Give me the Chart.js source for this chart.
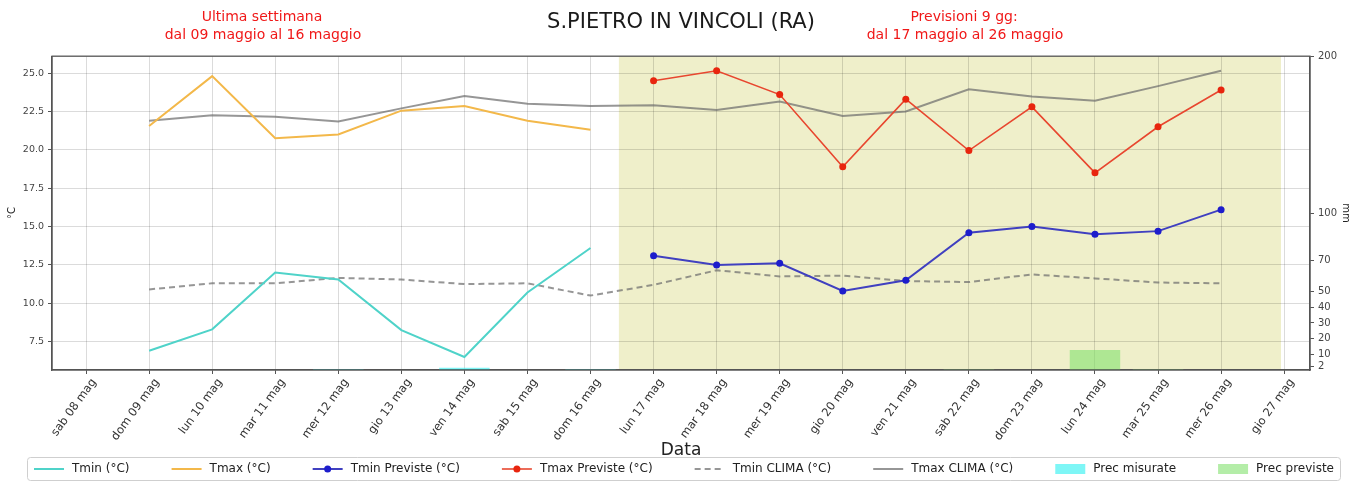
<!DOCTYPE html>
<html>
<head>
<meta charset="utf-8">
<script src="https://cdn.jsdelivr.net/npm/chart.js@4.4.1/dist/chart.umd.min.js"></script>
<style>
  html, body { margin: 0; padding: 0; background: #fff; }
</style>
</head>
<body>
<canvas id="meteoChart" width="1362" height="483"></canvas>
<script>
// Days on the x axis
const days = ['sab 08 mag', 'dom 09 mag', 'lun 10 mag', 'mar 11 mag', 'mer 12 mag', 'gio 13 mag', 'ven 14 mag',
  'sab 15 mag', 'dom 16 mag', 'lun 17 mag', 'mar 18 mag', 'mer 19 mag', 'gio 20 mag', 'ven 21 mag',
  'sab 22 mag', 'dom 23 mag', 'lun 24 mag', 'mar 25 mag', 'mer 26 mag', 'gio 27 mag'];

// Measured last week
const tmin = [null, 6.9, 8.3, 12.0, 11.55, 8.25, 6.5, 10.7, 13.6, null, null, null, null, null, null, null, null, null, null, null];
const tmax = [null, 21.55, 24.8, 20.75, 21.0, 22.55, 22.85, 21.9, 21.3, null, null, null, null, null, null, null, null, null, null, null];

// Forecast
const tminPrev = [null, null, null, null, null, null, null, null, null, 13.1, 12.5, 12.6, 10.8, 11.5, 14.6, 15.0, 14.5, 14.7, 16.1, null];
const tmaxPrev = [null, null, null, null, null, null, null, null, null, 24.5, 25.15, 23.6, 18.9, 23.3, 19.95, 22.8, 18.5, 21.5, 23.9, null];

// Climate
const tminClima = [null, 10.9, 11.3, 11.3, 11.65, 11.55, 11.25, 11.3, 10.5, 11.2, 12.15, 11.75, 11.8, 11.45, 11.38, 11.88, 11.62, 11.35, 11.3, null];
const tmaxClima = [null, 21.9, 22.25, 22.15, 21.85, 22.7, 23.5, 23.0, 22.85, 22.9, 22.6, 23.15, 22.2, 22.5, 23.95, 23.47, 23.2, 24.15, 25.15, null];

// Rain (mm)
const precMisurate = [null, null, null, null, 0.5, null, 1.5, null, 0.4, null, null, null, null, null, null, null, null, null, null, null];
const precPreviste = [null, null, null, null, null, null, null, null, null, null, null, null, null, null, 0.5, null, 12.8, 0.5, null, null];

// Tick values
const tempTicks = [7.5, 10, 12.5, 15, 17.5, 20, 22.5, 25];
const precTicks = [2, 10, 20, 30, 40, 50, 70, 100, 200];

const FONT = 'DejaVu Sans';
Chart.defaults.font.family = FONT;

const toPoints = arr => arr.map((v, i) => ({ x: i, y: v }));

// forecast period band
const band = { from: 8.45, to: 18.95, color: 'rgba(205,205,95,0.33)' };

const bandPlugin = {
  id: 'band',
  beforeDraw(chart) {
    const { ctx, chartArea: a, scales: { x } } = chart;
    const x0 = x.getPixelForValue(band.from);
    const x1 = x.getPixelForValue(band.to);
    ctx.save();
    ctx.fillStyle = band.color;
    ctx.fillRect(x0, a.top, x1 - x0, a.bottom - a.top);
    ctx.restore();
  }
};

const framePlugin = {
  id: 'frame',
  afterDatasetsDraw(chart) {
    const { ctx, chartArea: a } = chart;
    ctx.save();
    ctx.strokeStyle = '#555';
    ctx.lineWidth = 1.3;
    ctx.strokeRect(a.left, a.top, a.right - a.left, a.bottom - a.top);
    ctx.restore();
  }
};

// red period notes next to the title
const headerPlugin = {
  id: 'headers',
  afterDraw(chart) {
    const { ctx } = chart;
    ctx.save();
    ctx.font = '14px "' + FONT + '"';
    ctx.fillStyle = '#f01818';
    ctx.textAlign = 'center';
    ctx.textBaseline = 'middle';
    ctx.fillText('Ultima settimana', 262, 17);
    ctx.fillText('dal 09 maggio al 16 maggio', 263, 35);
    ctx.fillText('Previsioni 9 gg:', 964, 17);
    ctx.fillText('dal 17 maggio al 26 maggio', 965, 35);
    ctx.restore();
  }
};

// legend spread over the whole width, like the original
const legendPlugin = {
  id: 'bottomLegend',
  afterDraw(chart) {
    const { ctx } = chart;
    const items = chart.data.datasets;
    const sample = 30, gapText = 8, left = 34, right = 1334, cy = 469;
    ctx.save();
    ctx.font = '12px "' + FONT + '"';
    const widths = items.map(d => sample + gapText + ctx.measureText(d.label).width);
    const gap = (right - left - widths.reduce((a, b) => a + b, 0)) / (items.length - 1);

    ctx.fillStyle = 'rgba(255,255,255,0.85)';
    ctx.strokeStyle = '#cfcfcf';
    ctx.lineWidth = 1;
    ctx.beginPath();
    ctx.roundRect(left - 6.5, cy - 11.5, right - left + 13, 23, 3);
    ctx.fill();
    ctx.stroke();

    let x = left;
    items.forEach((d, i) => {
      if (d.type === 'bar') {
        ctx.fillStyle = d.backgroundColor;
        ctx.fillRect(x, cy - 5, sample, 10);
      } else {
        ctx.strokeStyle = d.borderColor;
        ctx.lineWidth = d.borderWidth;
        ctx.setLineDash(d.borderDash || []);
        ctx.beginPath();
        ctx.moveTo(x, cy);
        ctx.lineTo(x + sample, cy);
        ctx.stroke();
        ctx.setLineDash([]);
        if (d.pointRadius > 0) {
          ctx.fillStyle = d.pointBackgroundColor;
          ctx.beginPath();
          ctx.arc(x + sample / 2, cy, d.pointRadius, 0, Math.PI * 2);
          ctx.fill();
        }
      }
      ctx.fillStyle = '#222';
      ctx.textBaseline = 'middle';
      ctx.textAlign = 'left';
      ctx.fillText(d.label, x + sample + gapText, cy);
      x += widths[i] + gap;
    });
    ctx.restore();
  }
};

const gridColor = 'rgba(0,0,0,0.14)';
const axisColor = '#555';

new Chart(document.getElementById('meteoChart'), {
  type: 'line',
  data: {
    datasets: [
      { type: 'line', label: 'Tmin (°C)', data: toPoints(tmin), borderColor: '#4fd3c9', borderWidth: 2, pointRadius: 0, yAxisID: 'y', order: 1 },
      { type: 'line', label: 'Tmax (°C)', data: toPoints(tmax), borderColor: '#f3b84a', borderWidth: 2, pointRadius: 0, yAxisID: 'y', order: 1 },
      { type: 'line', label: 'Tmin Previste (°C)', data: toPoints(tminPrev), borderColor: '#4040c0', borderWidth: 2,
        pointRadius: 3.5, pointBackgroundColor: '#1d1dcc', pointBorderWidth: 0, yAxisID: 'y', order: 0 },
      { type: 'line', label: 'Tmax Previste (°C)', data: toPoints(tmaxPrev), borderColor: '#e8472f', borderWidth: 1.6,
        pointRadius: 3.5, pointBackgroundColor: '#e8250e', pointBorderWidth: 0, yAxisID: 'y', order: 0 },
      { type: 'line', label: 'Tmin CLIMA (°C)', data: toPoints(tminClima), borderColor: 'rgba(110,110,110,0.72)', borderWidth: 2,
        borderDash: [6, 4], pointRadius: 0, yAxisID: 'y', order: 2 },
      { type: 'line', label: 'Tmax CLIMA (°C)', data: toPoints(tmaxClima), borderColor: 'rgba(110,110,110,0.72)', borderWidth: 2,
        pointRadius: 0, yAxisID: 'y', order: 2 },
      { type: 'bar', label: 'Prec misurate', data: toPoints(precMisurate), backgroundColor: 'rgba(40,240,240,0.6)',
        grouped: false, barPercentage: 1, categoryPercentage: 0.8, yAxisID: 'y2', order: 3 },
      { type: 'bar', label: 'Prec previste', data: toPoints(precPreviste), backgroundColor: 'rgba(130,225,110,0.6)',
        grouped: false, barPercentage: 1, categoryPercentage: 0.8, yAxisID: 'y2', order: 3 }
    ]
  },
  options: {
    responsive: false,
    animation: false,
    layout: { padding: { top: 0, left: 0, right: 0, bottom: 22 } },
    plugins: {
      legend: { display: false },
      tooltip: { enabled: false },
      title: {
        display: true,
        text: 'S.PIETRO IN VINCOLI (RA)',
        color: '#1a1a1a',
        font: { size: 21, weight: 'normal' },
        padding: { top: 10, bottom: 21 }
      }
    },
    scales: {
      x: {
        type: 'linear',
        min: -0.54,
        max: 19.41,
        offset: false,
        afterBuildTicks: s => { s.ticks = days.map((_, i) => ({ value: i })); },
        afterFit: s => { s.height = 91; },
        ticks: {
          callback: v => days[v],
          autoSkip: false,
          maxRotation: 54,
          minRotation: 54,
          labelOffset: 8,
          color: '#333',
          padding: 2,
          font: { size: 11.5 }
        },
        grid: { offset: false, color: gridColor, tickColor: axisColor, tickLength: 4 },
        border: { color: axisColor, width: 1.3 },
        title: { display: true, text: 'Data', color: '#222', font: { size: 17 }, padding: { top: 0, bottom: 0 } }
      },
      y: {
        position: 'left',
        min: 5.65,
        max: 26.1,
        afterBuildTicks: s => { s.ticks = tempTicks.map(v => ({ value: v })); },
        afterFit: s => { s.width = 52; },
        ticks: { callback: v => v.toFixed(1), color: '#444', padding: 4, font: { size: 9.5 } },
        grid: { color: gridColor, tickColor: axisColor, tickLength: 4 },
        border: { color: axisColor, width: 1.3 },
        title: { display: true, text: '°C', color: '#222', font: { size: 10 }, padding: { top: 6, bottom: 0 } }
      },
      y2: {
        position: 'right',
        min: 0,
        max: 200,
        afterBuildTicks: s => { s.ticks = precTicks.map(v => ({ value: v })); },
        afterFit: s => { s.width = 52; },
        ticks: { autoSkip: false, color: '#444', padding: 4, font: { size: 10 } },
        grid: { drawOnChartArea: false, tickColor: axisColor, tickLength: 4 },
        border: { color: axisColor, width: 1.3 },
        title: { display: true, text: 'mm', color: '#222', font: { size: 10 }, padding: { top: 10, bottom: 0 } }
      }
    }
  },
  plugins: [bandPlugin, framePlugin, headerPlugin, legendPlugin]
});
</script>
</body>
</html>
